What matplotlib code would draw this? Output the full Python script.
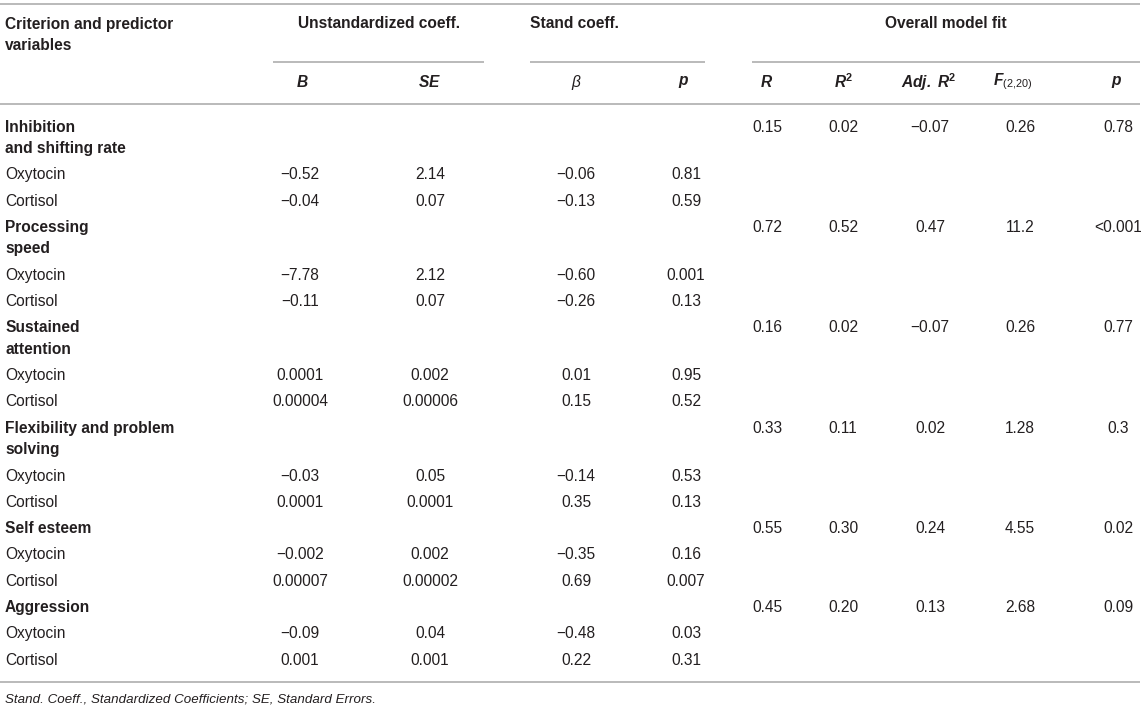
import matplotlib
matplotlib.use("Agg")
import matplotlib.pyplot as plt

# ---------------- data ----------------
criteria = ["Inhibition\nand shifting rate", "Processing\nspeed", "Sustained\nattention",
            "Flexibility and problem\nsolving", "Self esteem", "Aggression"]
predictors = ["Oxytocin", "Cortisol"]

B_vals = [["−0.52", "−0.04"], ["−7.78", "−0.11"], ["0.0001", "0.00004"],
          ["−0.03", "0.0001"], ["−0.002", "0.00007"], ["−0.09", "0.001"]]
SE_vals = [["2.14", "0.07"], ["2.12", "0.07"], ["0.002", "0.00006"],
           ["0.05", "0.0001"], ["0.002", "0.00002"], ["0.04", "0.001"]]
beta_vals = [["−0.06", "−0.13"], ["−0.60", "−0.26"], ["0.01", "0.15"],
             ["−0.14", "0.35"], ["−0.35", "0.69"], ["−0.48", "0.22"]]
p_vals = [["0.81", "0.59"], ["0.001", "0.13"], ["0.95", "0.52"],
          ["0.53", "0.13"], ["0.16", "0.007"], ["0.03", "0.31"]]

R_fit = ["0.15", "0.72", "0.16", "0.33", "0.55", "0.45"]
R2_fit = ["0.02", "0.52", "0.02", "0.11", "0.30", "0.20"]
adjR2_fit = ["−0.07", "0.47", "−0.07", "0.02", "0.24", "0.13"]
F_fit = ["0.26", "11.2", "0.26", "1.28", "4.55", "2.68"]
pfit = ["0.78", "<0.001", "0.77", "0.3", "0.02", "0.09"]

group_headers = ["Unstandardized coeff.", "Stand coeff.", "Overall model fit"]
col_headers = [r"$\mathbfit{B}$", r"$\mathbfit{SE}$", r"$\mathit{\beta}$", r"$\mathbfit{p}$",
               r"$\mathbfit{R}$", r"$\mathbfit{R}^{\mathbf{2}}$",
               r"$\mathbfit{Adj.}$ $\mathbfit{R}^{\mathbf{2}}$",
               r"$\mathbfit{F}_{\mathrm{(2{,}20)}}$", r"$\mathbfit{p}$"]
first_header = "Criterion and predictor\nvariables"
footnote = "Stand. Coeff., Standardized Coefficients; SE, Standard Errors."

# ---------------- style ----------------
FONT = "Liberation Sans"
plt.rcParams["font.family"] = [FONT, "DejaVu Sans"]
plt.rcParams["mathtext.fontset"] = "custom"
plt.rcParams["mathtext.rm"] = FONT
plt.rcParams["mathtext.it"] = FONT + ":italic"
plt.rcParams["mathtext.bf"] = FONT + ":bold"
plt.rcParams["mathtext.bfit"] = FONT + ":bold:italic"
plt.rcParams["mathtext.sf"] = FONT

TXT = "#231f20"
LINE = "#b4b4b4"
FS = 11.2
LW = 1.3

W, H = 1145, 710
fig = plt.figure(figsize=(W / 100, H / 100), dpi=100)
ax = fig.add_axes([0, 0, 1, 1])
ax.set_xlim(0, W)
ax.set_ylim(H, 0)
ax.axis("off")

# layout
x_label = 5
col_x = [300, 430, 576, 686, 767, 843, 930, 1020, 1118]
hdr_x = [302, 430, 576, 684, 767, 843, 929, 1013, 1117]
table_right = 1140

# rules
ax.hlines(4, 0, table_right, color=LINE, lw=LW)
ax.hlines(62, 273, 484, color=LINE, lw=LW)
ax.hlines(62, 530, 705, color=LINE, lw=LW)
ax.hlines(62, 752, table_right, color=LINE, lw=LW)
ax.hlines(104, 0, table_right, color=LINE, lw=LW)

# header text
hdr_lines = first_header.split("\n")
ax.text(x_label, 25, hdr_lines[0], fontsize=FS, fontweight="bold", color=TXT, va="center", ha="left")
ax.text(x_label, 45, hdr_lines[1], fontsize=FS, fontweight="bold", color=TXT, va="center", ha="left")
ax.text(378.5, 24, group_headers[0], fontsize=FS, fontweight="bold", color=TXT, va="center", ha="center")
ax.text(530, 24, group_headers[1], fontsize=FS, fontweight="bold", color=TXT, va="center", ha="left")
ax.text(946, 24, group_headers[2], fontsize=FS, fontweight="bold", color=TXT, va="center", ha="center")
for hx, h in zip(hdr_x, col_headers):
    ax.text(hx, 82, h, fontsize=FS, color=TXT, va="center", ha="center")

# body
y = 127.0
wrap_step = 21.5
row_step = 26.3
for gi, crit in enumerate(criteria):
    lines = crit.split("\n")
    y_first = y
    for li, ln in enumerate(lines):
        ax.text(x_label, y, ln, fontsize=FS, fontweight="bold", color=TXT, va="center", ha="left")
        if li < len(lines) - 1:
            y += wrap_step
    fit_row = [R_fit[gi], R2_fit[gi], adjR2_fit[gi], F_fit[gi], pfit[gi]]
    for cx, v in zip(col_x[4:], fit_row):
        ax.text(cx, y_first, v, fontsize=FS, color=TXT, va="center", ha="center")
    for pi, pred in enumerate(predictors):
        y += row_step
        ax.text(x_label, y, pred, fontsize=FS, color=TXT, va="center", ha="left")
        vals = [B_vals[gi][pi], SE_vals[gi][pi], beta_vals[gi][pi], p_vals[gi][pi]]
        for cx, v in zip(col_x[:4], vals):
            ax.text(cx, y, v, fontsize=FS, color=TXT, va="center", ha="center")
    y += row_step

ax.hlines(682, 0, table_right, color=LINE, lw=LW)
ax.text(x_label, 699, footnote, fontsize=FS * 0.86, style="italic", color=TXT, va="center", ha="left")

fig.savefig("out.png", dpi=100)
